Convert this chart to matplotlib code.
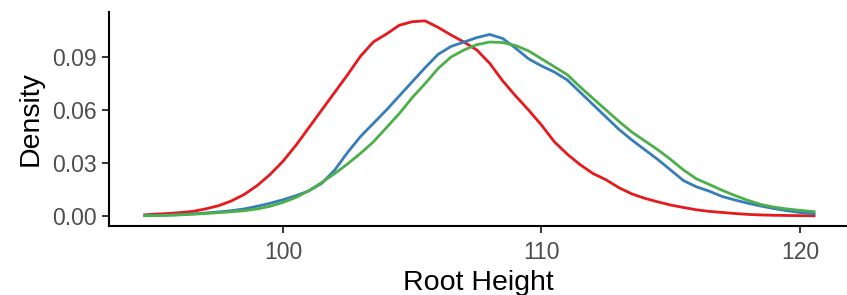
import numpy as np
import matplotlib
matplotlib.use("Agg")
import matplotlib.pyplot as plt

plt.rcParams['font.family'] = ['Liberation Sans', 'DejaVu Sans']

# root height grid
x = [94.6, 95.0, 95.5, 96.0, 96.5, 97.0, 97.5, 98.0, 98.5, 99.0, 99.5,
     100.0, 100.5, 101.0, 101.5, 102.0, 102.5, 103.0, 103.5, 104.0, 104.5,
     105.0, 105.5, 106.0, 106.5, 107.0, 107.5, 108.0, 108.5, 109.0, 109.5,
     110.0, 110.5, 111.0, 111.5, 112.0, 112.5, 113.0, 113.5, 114.0, 114.5,
     115.0, 115.5, 116.0, 116.5, 117.0, 117.5, 118.0, 118.5, 119.0, 119.5,
     120.0, 120.6]

red = [0.0006, 0.0010, 0.0014, 0.0019, 0.0026, 0.0040, 0.0058, 0.0085, 0.0122, 0.0172, 0.0235,
       0.0310, 0.0400, 0.0500, 0.0600, 0.0700, 0.0800, 0.0905, 0.0986, 0.1030, 0.1080,
       0.1100, 0.1105, 0.1068, 0.1025, 0.0985, 0.0940, 0.0864, 0.0765, 0.0680, 0.0600,
       0.0515, 0.0420, 0.0350, 0.0290, 0.0240, 0.0205, 0.0160, 0.0125, 0.0100, 0.0080,
       0.0062, 0.0048, 0.0035, 0.0026, 0.0020, 0.0014, 0.0009, 0.0006, 0.0004, 0.0003,
       0.0002, 0.0001]

blue = [0.0002, 0.0003, 0.0005, 0.0008, 0.0012, 0.0017, 0.0023, 0.0030, 0.0040, 0.0055, 0.0072,
        0.0092, 0.0115, 0.0142, 0.0185, 0.0260, 0.0360, 0.0450, 0.0525, 0.0600, 0.0680,
        0.0760, 0.0840, 0.0915, 0.0960, 0.0985, 0.1010, 0.1028, 0.1005, 0.0950, 0.0890,
        0.0850, 0.0815, 0.0770, 0.0700, 0.0630, 0.0560, 0.0490, 0.0430, 0.0375, 0.0320,
        0.0260, 0.0200, 0.0165, 0.0140, 0.0110, 0.0090, 0.0072, 0.0056, 0.0042, 0.0030,
        0.0020, 0.0012]

green = [0.0001, 0.0002, 0.0004, 0.0006, 0.0010, 0.0014, 0.0019, 0.0024, 0.0030, 0.0040, 0.0055,
         0.0077, 0.0105, 0.0143, 0.0190, 0.0240, 0.0295, 0.0355, 0.0420, 0.0500, 0.0580,
         0.0670, 0.0750, 0.0835, 0.0900, 0.0940, 0.0970, 0.0985, 0.0982, 0.0965, 0.0935,
         0.0890, 0.0845, 0.0800, 0.0730, 0.0665, 0.0600, 0.0535, 0.0475, 0.0425, 0.0375,
         0.0320, 0.0260, 0.0210, 0.0178, 0.0145, 0.0115, 0.0088, 0.0065, 0.0050, 0.0040,
         0.0032, 0.0024]

yticks = [0.00, 0.03, 0.06, 0.09]
xticks = [100, 110, 120]

fig = plt.figure(figsize=(8.47, 2.95), dpi=100)
ax = fig.add_axes([0.1287, 0.2339, 0.8713, 0.7254])

for ys, c in [(red, '#E41A1C'), (blue, '#377EB8'), (green, '#4DAF4A')]:
    ax.plot(x, ys, color=c, lw=2.0, solid_joinstyle='round', solid_capstyle='butt')

ax.set_xlim(93.27, 121.82)
ax.set_ylim(-0.00566, 0.1155)
ax.set_xticks(xticks)
ax.set_yticks(yticks)
ax.set_yticklabels([f"{v:.2f}" for v in yticks])

for s in ['top', 'right']:
    ax.spines[s].set_visible(False)
for s in ['left', 'bottom']:
    ax.spines[s].set_linewidth(1.5)
    ax.spines[s].set_color('black')

ax.tick_params(length=5, width=1.4, color='#333333', labelcolor='#4D4D4D',
               labelsize=16.5)
ax.tick_params(axis='x', pad=6)
ax.tick_params(axis='y', pad=4)
ax.set_xlabel('Root Height', fontsize=20.5, labelpad=4)
ax.set_ylabel('Density', fontsize=20.5, labelpad=6)

fig.savefig('out.png', dpi=100)
